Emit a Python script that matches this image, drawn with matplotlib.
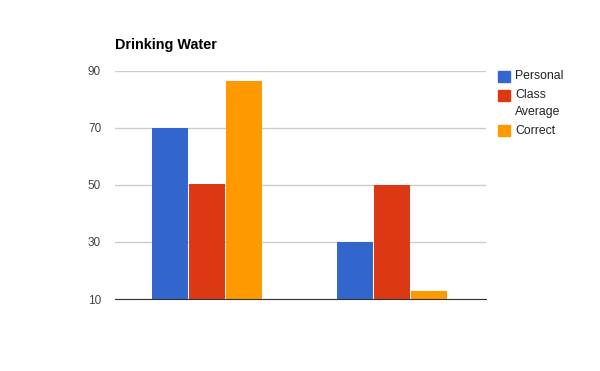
import matplotlib
matplotlib.use('Agg')
import matplotlib.pyplot as plt
from matplotlib.patches import Rectangle

plt.rcParams['font.family'] = ['Liberation Sans', 'DejaVu Sans']

# data
groups = ['', '']
series = ['Personal', 'Class\nAverage', 'Correct']
personal = [70, 30]
class_avg = [50.5, 50.1]
correct = [86.6, 12.8]
colors = ['#3366cc', '#dc3912', '#ff9900']
yticks = [10, 30, 50, 70, 90]

fig = plt.figure(figsize=(6, 3.71), dpi=100)
ax = fig.add_axes([115/600, 1-299/371, 371/600, 228/371])

values = [personal, class_avg, correct]
bw = 0.2
for i, vals in enumerate(values):
    xs = [g + (i - 1) * bw - 0.005 for g in range(len(groups))]
    ax.bar(xs, [v - 10 for v in vals], bw - 0.006, bottom=10,
           color=colors[i], zorder=3)

ax.set_xlim(-0.5, 1.5)
ax.set_ylim(10, 90)
ax.set_yticks(yticks)
ax.set_xticks([])
ax.tick_params(axis='y', length=0, pad=10, labelsize=8.5, labelcolor='#444444')
ax.grid(axis='y', color='#cccccc', linewidth=1, zorder=0)
for s in ['top', 'right', 'left']:
    ax.spines[s].set_visible(False)
ax.spines['bottom'].set_color('#333333')
ax.spines['bottom'].set_zorder(4)

fig.text(115/600, 1-45/371, 'Drinking Water', fontsize=10.4, fontweight='bold',
         color='#000000', va='center', ha='left')

# legend drawn by hand, swatch next to the first line
leg_y = [76, 95.5, 130.5]
for i, name in enumerate(series):
    y = leg_y[i]
    fig.patches.append(Rectangle((498/600, 1-(y+5.5)/371), 12/600, 11/371,
                                 transform=fig.transFigure, color=colors[i]))
    for j, ln in enumerate(name.split('\n')):
        fig.text(515/600, 1-(y + j*16)/371, ln, fontsize=8.8, color='#222222',
                 va='center', ha='left')

fig.savefig('out.png', dpi=100)
